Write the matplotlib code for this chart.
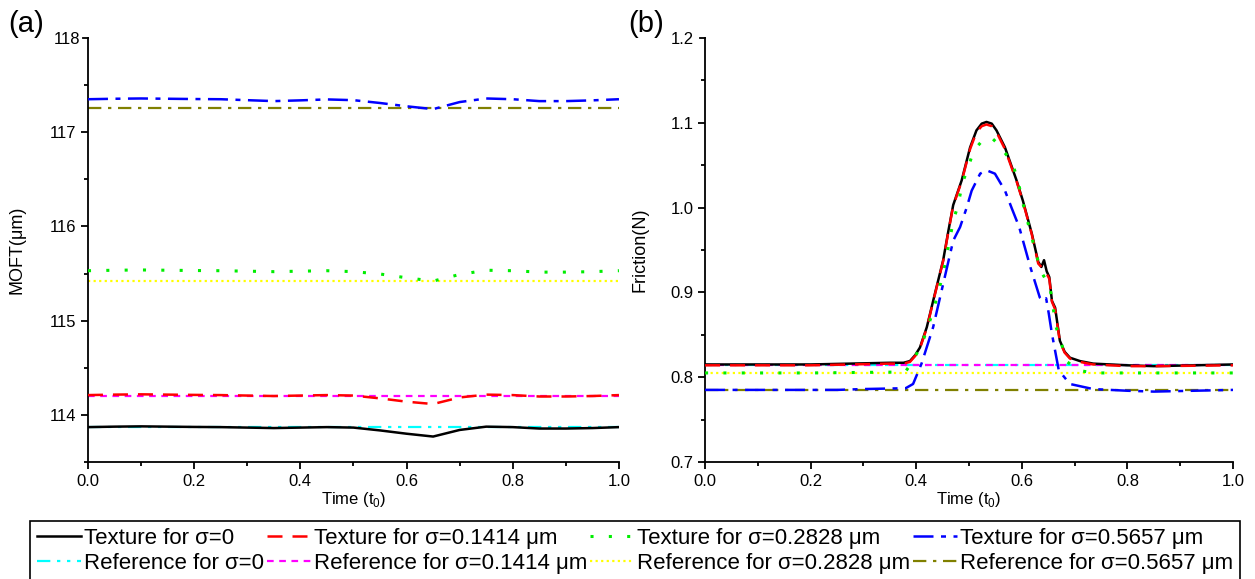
import matplotlib.pyplot as plt
import numpy as np
from matplotlib.ticker import MultipleLocator

plt.rcParams['font.family'] = ['Liberation Sans', 'DejaVu Sans']
plt.rcParams['mathtext.fontset'] = 'custom'
plt.rcParams['mathtext.rm'] = 'Liberation Sans'

# (a) minimum oil film thickness, um
t_moft = [0.0, 0.05, 0.1, 0.15, 0.2, 0.25, 0.3, 0.35, 0.4, 0.45, 0.5,
          0.55, 0.6, 0.65, 0.7, 0.75, 0.8, 0.85, 0.9, 0.95, 1.0]
moft_tex_0 = [113.870, 113.875, 113.878, 113.875, 113.872, 113.870, 113.865,
              113.860, 113.865, 113.870, 113.865, 113.835, 113.800, 113.770,
              113.840, 113.875, 113.870, 113.855, 113.855, 113.860, 113.870]
moft_tex_1 = [114.210, 114.215, 114.218, 114.215, 114.212, 114.210, 114.205,
              114.200, 114.205, 114.210, 114.205, 114.175, 114.140, 114.115,
              114.185, 114.215, 114.210, 114.195, 114.195, 114.200, 114.210]
moft_tex_2 = [115.530, 115.535, 115.538, 115.535, 115.532, 115.530, 115.525,
              115.520, 115.525, 115.530, 115.520, 115.495, 115.455, 115.420,
              115.490, 115.535, 115.530, 115.515, 115.515, 115.520, 115.530]
moft_tex_3 = [117.350, 117.355, 117.358, 117.355, 117.352, 117.350, 117.340,
              117.330, 117.338, 117.348, 117.340, 117.310, 117.275, 117.245,
              117.320, 117.358, 117.350, 117.330, 117.330, 117.338, 117.350]
moft_ref = [113.87, 114.20, 115.42, 117.26]

# (b) friction force, N
t_f0 = [0.0, 0.2, 0.35, 0.376, 0.388, 0.398, 0.407, 0.420, 0.432, 0.451,
        0.461, 0.470, 0.486, 0.502, 0.514, 0.524, 0.533, 0.543, 0.552, 0.568,
        0.590, 0.602, 0.619, 0.631, 0.637, 0.642, 0.647, 0.652, 0.657, 0.663,
        0.672, 0.681, 0.691, 0.710, 0.735, 0.80, 0.85, 1.0]
fric_tex_0 = [0.815, 0.815, 0.817, 0.817, 0.819, 0.826, 0.835, 0.859, 0.890,
              0.938, 0.973, 1.003, 1.032, 1.071, 1.091, 1.099, 1.101, 1.099,
              1.091, 1.071, 1.032, 1.008, 0.969, 0.936, 0.930, 0.938, 0.925,
              0.918, 0.890, 0.882, 0.843, 0.830, 0.823, 0.819, 0.816, 0.814,
              0.813, 0.815]
fric_tex_1 = [0.814, 0.814, 0.816, 0.816, 0.818, 0.825, 0.834, 0.858, 0.889,
              0.937, 0.972, 1.002, 1.031, 1.069, 1.089, 1.096, 1.098, 1.096,
              1.089, 1.069, 1.031, 1.007, 0.968, 0.934, 0.930, 0.928, 0.922,
              0.916, 0.889, 0.880, 0.842, 0.829, 0.822, 0.818, 0.815, 0.813,
              0.813, 0.814]
t_f2 = [0.0, 0.2, 0.36, 0.38, 0.394, 0.413, 0.432, 0.451, 0.471, 0.478,
        0.488, 0.497, 0.505, 0.514, 0.528, 0.536, 0.545, 0.555, 0.5735,
        0.583, 0.592, 0.600, 0.617, 0.636, 0.653, 0.665, 0.686, 0.708, 0.735,
        1.0]
fric_tex_2 = [0.805, 0.805, 0.806, 0.807, 0.819, 0.843, 0.878, 0.922, 0.987,
              1.000, 1.030, 1.045, 1.060, 1.071, 1.081, 1.083, 1.081, 1.075,
              1.060, 1.050, 1.034, 1.010, 0.969, 0.925, 0.907, 0.859, 0.818,
              0.808, 0.805, 0.805]
t_f3 = [0.0, 0.25, 0.3, 0.38, 0.394, 0.410, 0.432, 0.451, 0.470, 0.483,
        0.495, 0.505, 0.521, 0.533, 0.549, 0.568, 0.581, 0.595, 0.616, 0.634,
        0.641, 0.646, 0.651, 0.657, 0.670, 0.691, 0.735, 0.80, 0.85, 1.0]
fric_tex_3 = [0.785, 0.785, 0.786, 0.787, 0.792, 0.816, 0.859, 0.910, 0.961,
              0.977, 0.999, 1.020, 1.040, 1.044, 1.040, 1.020, 0.999, 0.977,
              0.930, 0.894, 0.890, 0.893, 0.875, 0.851, 0.808, 0.792, 0.786,
              0.784, 0.783, 0.785]
fric_ref = [0.814, 0.814, 0.805, 0.785]

sigmas = ['0', '0.1414 μm', '0.2828 μm', '0.5657 μm']
tex_colors = ['black', 'red', '#00ee00', 'blue']
tex_styles = ['-', (0, (6, 4)), (0, (1, 5)), (0, (8, 3, 2, 3))]
ref_colors = ['cyan', 'magenta', '#ffff00', '#808000']
ref_styles = [(0, (6, 3, 1.5, 3, 1.5, 3)), (0, (3, 2.5)), (0, (1, 1.5)),
              (0, (6, 3, 1.5, 3))]

fig = plt.figure(figsize=(12.55, 5.79), dpi=100)
ax1 = fig.add_axes([0.0701, 0.2021, 0.4231, 0.7323])
ax2 = fig.add_axes([0.5618, 0.2021, 0.4207, 0.7323])

moft_tex = [moft_tex_0, moft_tex_1, moft_tex_2, moft_tex_3]
fric_t = [t_f0, t_f0, t_f2, t_f3]
fric_tex = [fric_tex_0, fric_tex_1, fric_tex_2, fric_tex_3]

handles = []
for i in range(4):
    lw = 1.8 if i != 2 else 2.2
    r1, = ax1.plot([0, 1], [moft_ref[i]] * 2, color=ref_colors[i],
                   ls=ref_styles[i], lw=1.6, zorder=2)
    ax2.plot([0, 1], [fric_ref[i]] * 2, color=ref_colors[i],
             ls=ref_styles[i], lw=1.6, zorder=2)
    h, = ax1.plot(t_moft, moft_tex[i], color=tex_colors[i],
                  ls=tex_styles[i], lw=lw, zorder=3)
    ax2.plot(fric_t[i], fric_tex[i], color=tex_colors[i],
             ls=tex_styles[i], lw=lw, zorder=3)
    h.set_label('Texture for σ=' + sigmas[i])
    r1.set_label('Reference for σ=' + sigmas[i])
    handles += [h, r1]

for ax in (ax1, ax2):
    ax.spines['top'].set_visible(False)
    ax.spines['right'].set_visible(False)
    ax.spines['left'].set_linewidth(1.3)
    ax.spines['bottom'].set_linewidth(1.3)
    ax.set_xlim(0, 1)
    ax.xaxis.set_major_locator(MultipleLocator(0.2))
    ax.xaxis.set_minor_locator(MultipleLocator(0.1))
    ax.tick_params(which='major', length=5, width=1.3, labelsize=12)
    ax.tick_params(which='minor', length=3, width=1.3)
    ax.set_xlabel('Time (t$_0$)', fontsize=12, labelpad=1)

ax1.set_ylim(113.5, 118)
ax1.set_yticks([114, 115, 116, 117])
ax1.set_yticks([113.5, 114.5, 115.5, 116.5, 117.5], minor=True)
ax1.set_ylabel('MOFT(μm)', fontsize=13)
ax1.yaxis.set_label_coords(-0.117, 0.5)

ax2.set_ylim(0.7, 1.2)
ax2.set_yticks([0.7, 0.8, 0.9, 1.0, 1.1])
ax2.set_yticks([0.75, 0.85, 0.95, 1.05, 1.15], minor=True)
ax2.set_ylabel('Friction(N)', fontsize=13)
ax2.yaxis.set_label_coords(-0.108, 0.5)

# top tick of each panel, its label tucked behind the panel letter
for ax, top, letter, xl, xt, lab in [(ax1, 118, '(a)', 8, 80, '118'),
                                     (ax2, 1.2, '(b)', 628, 694, '1.2')]:
    ax.plot([-5 / 531, 0], [top, top], color='black', lw=1.3, clip_on=False,
            transform=ax.get_yaxis_transform())
    fig.text(xl / 1255, 1 - 24 / 579, letter, fontsize=21, va='center')
    fig.text(xt / 1255, 1 - 40 / 579, lab, fontsize=12, va='center',
             ha='right')

leg = fig.legend(handles=handles, ncol=4, loc='lower center',
                 bbox_to_anchor=(635 / 1255, -0.003),
                 fontsize=16, handlelength=2.0,
                 handletextpad=0.12, columnspacing=0.12, labelspacing=0.2,
                 borderpad=0.3, borderaxespad=0, fancybox=False,
                 edgecolor='black', framealpha=1)
leg.get_frame().set_linewidth(1.2)

fig.savefig('out.png', dpi=100)
